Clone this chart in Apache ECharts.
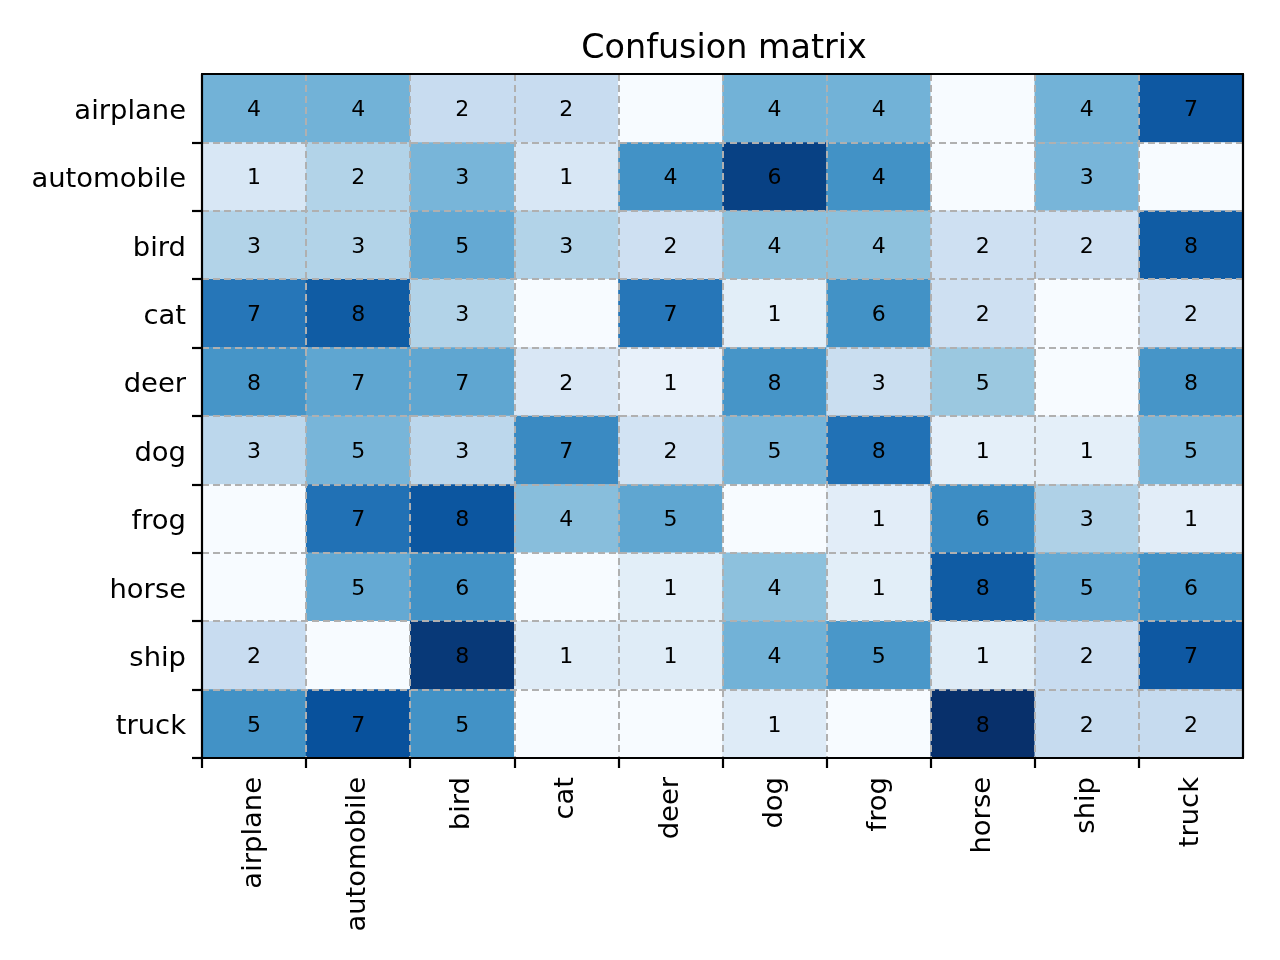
<!DOCTYPE html>
<html>
<head>
<meta charset="utf-8">
<script src="https://cdn.jsdelivr.net/npm/echarts@6/dist/echarts.min.js"></script>
<style>html,body{margin:0;padding:0;background:#fff}#c{width:1280px;height:960px}</style>
</head>
<body>
<div id="c"></div>
<script>
const classes = ['airplane','automobile','bird','cat','deer','dog','frog','horse','ship','truck'];
// confusion counts, rows = true label (top to bottom), columns = predicted
const rowAirplane   = [4,4,2,2,0,4,4,0,4,7];
const rowAutomobile = [1,2,3,1,4,6,4,0,3,0];
const rowBird       = [3,3,5,3,2,4,4,2,2,8];
const rowCat        = [7,8,3,0,7,1,6,2,0,2];
const rowDeer       = [8,7,7,2,1,8,3,5,0,8];
const rowDog        = [3,5,3,7,2,5,8,1,1,5];
const rowFrog       = [0,7,8,4,5,0,1,6,3,1];
const rowHorse      = [0,5,6,0,1,4,1,8,5,6];
const rowShip       = [2,0,8,1,1,4,5,1,2,7];
const rowTruck      = [5,7,5,0,0,1,0,8,2,2];
const matrix = [rowAirplane,rowAutomobile,rowBird,rowCat,rowDeer,rowDog,rowFrog,rowHorse,rowShip,rowTruck];
const blues = ['#f7fbff','#deebf7','#c6dbef','#9ecae1','#6baed6','#4292c6','#2171b5','#08519c','#08306b'];

// colour by row-normalised value, label with raw count
const data = [];
let vmax = 0;
matrix.forEach((row, r) => {
  const s = row.reduce((a, b) => a + b, 0);
  row.forEach((v, c) => {
    const n = s ? v / s : 0;
    vmax = Math.max(vmax, n);
    data.push([c, r, n, v]);
  });
});
const tickIdx = classes.map((_, i) => i);
const FONT = 'DejaVu Sans';

const chart = echarts.init(document.getElementById('c'), null, {renderer: 'canvas'});
chart.setOption({
  backgroundColor: '#fff',
  animation: false,
  title: {
    text: 'Confusion matrix', left: 719, top: 28, textAlign: 'center',
    textStyle: {fontFamily: FONT, fontSize: 33.4, fontWeight: 'normal', color: '#000'}
  },
  grid: {left: 202, right: 37, top: 74, bottom: 202, containLabel: false},
  visualMap: {show: false, min: 0, max: vmax, dimension: 2, seriesIndex: 0, inRange: {color: blues}},
  xAxis: [
    {type: 'category', data: classes, position: 'bottom', z: 10,
     axisLine: {show: true, lineStyle: {color: '#000', width: 2.2}},
     axisTick: {show: false},
     axisLabel: {rotate: 90, margin: 19, fontFamily: FONT, fontSize: 27.4, color: '#000'},
     splitLine: {show: true, lineStyle: {color: '#b0b0b0', width: 2, type: [7, 4]}}},
    {type: 'value', min: 0, max: classes.length, position: 'bottom', z: 10,
     axisLine: {show: false}, axisLabel: {show: false}, splitLine: {show: false},
     axisTick: {show: true, length: 10, customValues: tickIdx, lineStyle: {color: '#000', width: 2.2}}},
    {type: 'value', min: 0, max: classes.length, position: 'top', z: 10,
     axisLine: {show: true, onZero: false, lineStyle: {color: '#000', width: 2.2}},
     axisLabel: {show: false}, axisTick: {show: false}, splitLine: {show: false}}
  ],
  yAxis: [
    {type: 'category', data: classes, inverse: true, position: 'left', z: 10,
     axisLine: {show: true, lineStyle: {color: '#000', width: 2.2}},
     axisTick: {show: false},
     axisLabel: {margin: 16, verticalAlign: 'middle', lineHeight: 27,
                 rich: {}, padding: [7, 0, 0, 0],
                 fontFamily: FONT, fontSize: 27.4, color: '#000'},
     splitLine: {show: true, lineStyle: {color: '#b0b0b0', width: 2, type: [7, 4]}}},
    {type: 'value', min: 0, max: classes.length, position: 'left', z: 10,
     axisLine: {show: false}, axisLabel: {show: false}, splitLine: {show: false},
     axisTick: {show: true, length: 10, customValues: tickIdx, lineStyle: {color: '#000', width: 2.2}}},
    {type: 'value', min: 0, max: classes.length, position: 'right', z: 10,
     axisLine: {show: true, onZero: false, lineStyle: {color: '#000', width: 2.2}},
     axisLabel: {show: false}, axisTick: {show: false}, splitLine: {show: false}}
  ],
  series: [{
    type: 'heatmap', xAxisIndex: 0, yAxisIndex: 0, data: data,
    label: {show: true, offset: [0, 2], fontFamily: FONT, fontSize: 22, color: '#000',
            formatter: p => (p.value[3] > 0 ? String(p.value[3]) : '')},
    itemStyle: {borderWidth: 0},
    emphasis: {disabled: true}
  }]
});
</script>
</body>
</html>
